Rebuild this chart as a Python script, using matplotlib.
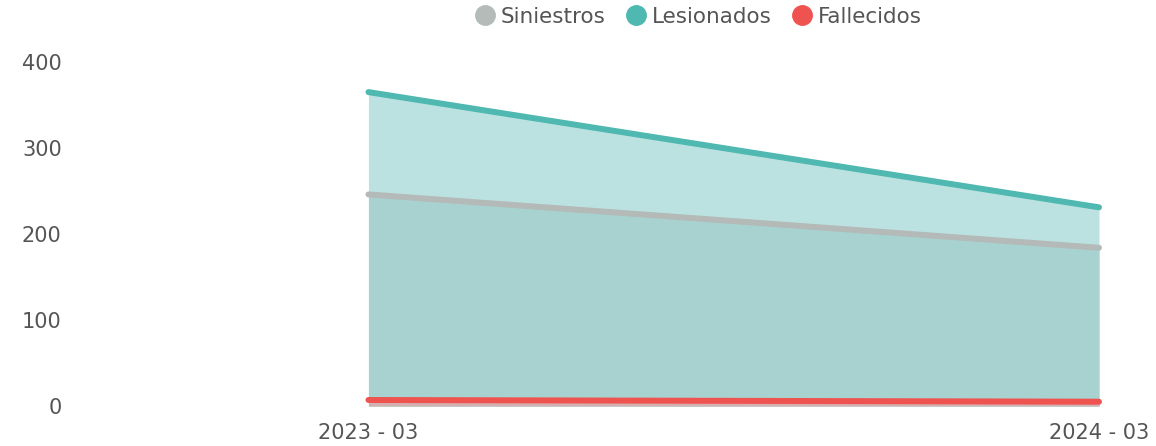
import matplotlib
matplotlib.use("Agg")
import matplotlib.pyplot as plt
from matplotlib.lines import Line2D

categories = ["2023 - 03", "2024 - 03"]
siniestros = [246, 184]
lesionados = [365, 231]
fallecidos = [7, 5]
y_ticks = [0, 100, 200, 300, 400]

c_sin = "#b3bab7"
c_les = "#4fb8b1"
c_fal = "#ef5350"
text_c = "#555555"

plt.rcParams['font.family'] = ['DejaVu Sans']

fig = plt.figure(figsize=(11.56, 4.46), dpi=100)
ax = fig.add_axes([70/1156, 1-406/446, (1099-70)/1156, (406-62)/446])

x = list(range(len(categories)))

ax.fill_between(x, 0, lesionados, color="#bbe2e0", lw=0, zorder=1)
ax.fill_between(x, 0, siniestros, color="#a8d2d0", lw=0, zorder=2)
ax.fill_between(x, 0, fallecidos, color="#d4b0b0", lw=0, zorder=3)

ax.plot(x, lesionados, color=c_les, lw=4.3, solid_capstyle="round", zorder=5, clip_on=False)
ax.plot(x, siniestros, color=c_sin, lw=4.3, solid_capstyle="round", zorder=5, clip_on=False)
ax.plot(x, fallecidos, color=c_fal, lw=4.3, solid_capstyle="round", zorder=6, clip_on=False)

ax.set_xlim(-0.4085, 1.0)
ax.set_ylim(0, 400)
ax.set_xticks(x)
ax.set_xticklabels(categories, fontsize=15, color=text_c)
ax.set_yticks(y_ticks)
ax.set_yticklabels([str(v) for v in y_ticks], fontsize=15, color=text_c)
ax.tick_params(axis='x', length=0, pad=12)
ax.tick_params(axis='y', length=0, pad=6)
for s in ax.spines.values():
    s.set_visible(False)

handles = [Line2D([], [], marker='o', ls='none', markersize=14, color=c) for c in ("#b3bcb8", c_les, c_fal)]
fig.legend(handles, ["Siniestros", "Lesionados", "Fallecidos"], loc="center", bbox_to_anchor=(697/1156, 1-17/446),
           ncol=3, frameon=False, fontsize=15.5, labelcolor=text_c, handletextpad=0.15, columnspacing=0.8,
           handlelength=1.2)

fig.savefig("out.png", dpi=100)
